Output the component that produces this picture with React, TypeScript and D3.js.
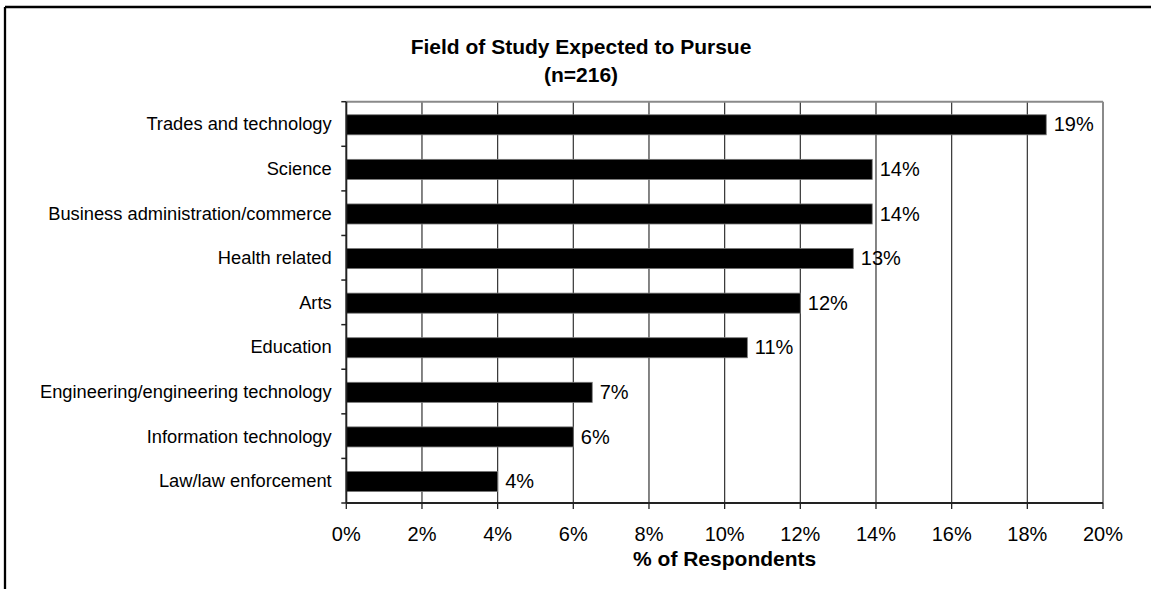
import React from "react";
import * as d3 from "d3";

const categories = [
  "Trades and technology",
  "Science",
  "Business administration/commerce",
  "Health related",
  "Arts",
  "Education",
  "Engineering/engineering technology",
  "Information technology",
  "Law/law enforcement",
];
const values = [18.5, 13.9, 13.9, 13.4, 12.0, 10.6, 6.5, 6.0, 4.0];
const xTicks = [0, 2, 4, 6, 8, 10, 12, 14, 16, 18, 20];
const titleLines = ["Field of Study Expected to Pursue", "(n=216)"];
const xAxisTitle = "% of Respondents";

const W = 1151;
const H = 589;
const FONT = "'Liberation Sans', Arial, Helvetica, sans-serif";

export default function App() {
  const left = 346.3;
  const right = 1103;
  const top = 101.7;
  const bottom = 503;

  const x = d3.scaleLinear().domain([0, 20]).range([left, right]);
  const y = d3.scaleBand<string>().domain(categories).range([top, bottom]).padding(0);
  const bw = y.bandwidth();
  const barH = bw * 0.45;
  const boundaries = d3.range(categories.length + 1).map((i) => top + i * bw);

  return (
    <svg
      width={W}
      height={H}
      style={{ position: "absolute", left: 0, top: 0, background: "#fff" }}
      fontFamily={FONT}
    >
      <rect x={0} y={0} width={W} height={H} fill="#fff" />
      {/* outer frame */}
      <line x1={5} y1={7} x2={W + 5} y2={7} stroke="#000" strokeWidth={2.3} />
      <line x1={5} y1={7} x2={5} y2={H + 5} stroke="#000" strokeWidth={2.3} />

      {/* title */}
      <text x={581} y={54} textAnchor="middle" fontSize={21} fontWeight="bold" fill="#000">
        {titleLines[0]}
      </text>
      <text x={581} y={82} textAnchor="middle" fontSize={21} fontWeight="bold" fill="#000">
        {titleLines[1]}
      </text>

      {/* gridlines */}
      {xTicks.slice(1, -1).map((t) => (
        <line key={"g" + t} x1={x(t)} x2={x(t)} y1={top} y2={bottom} stroke="#333" strokeWidth={1.2} />
      ))}
      {/* plot border top/right */}
      <line x1={left} x2={right} y1={top} y2={top} stroke="#8a8a8a" strokeWidth={2} />
      <line x1={right} x2={right} y1={top} y2={bottom} stroke="#8a8a8a" strokeWidth={2} />

      {/* bars */}
      {categories.map((c, i) => (
        <rect
          key={c}
          x={x(0)}
          y={(y(c) as number) + (bw - barH) / 2 + 0.8}
          width={x(values[i]) - x(0)}
          height={barH}
          fill="#000"
          stroke="#777"
          strokeWidth={0.8}
        />
      ))}
      {/* data labels */}
      {categories.map((c, i) => (
        <text
          key={"l" + c}
          x={x(values[i]) + 7.5}
          y={(y(c) as number) + bw / 2 + 7.5}
          fontSize={20}
          fill="#000"
        >
          {Math.round(values[i]) + "%"}
        </text>
      ))}

      {/* y axis */}
      <line x1={left} x2={left} y1={top} y2={bottom} stroke="#222" strokeWidth={2} />
      {boundaries.map((b, i) => (
        <line key={"yt" + i} x1={left - 5} x2={left} y1={b} y2={b} stroke="#222" strokeWidth={1.5} />
      ))}
      {categories.map((c) => (
        <text
          key={"c" + c}
          x={331.7}
          y={(y(c) as number) + bw / 2 + 6.5}
          textAnchor="end"
          fontSize={18.3}
          fill="#000"
        >
          {c}
        </text>
      ))}

      {/* x axis */}
      <line x1={left} x2={right} y1={bottom} y2={bottom} stroke="#222" strokeWidth={2} />
      {xTicks.map((t) => (
        <line key={"xt" + t} x1={x(t)} x2={x(t)} y1={bottom} y2={bottom + 6} stroke="#222" strokeWidth={1.3} />
      ))}
      {xTicks.map((t) => (
        <text key={"xl" + t} x={x(t)} y={540.5} textAnchor="middle" fontSize={20} fill="#000">
          {t + "%"}
        </text>
      ))}
      <text x={(left + right) / 2} y={566} textAnchor="middle" fontSize={21} fontWeight="bold" fill="#000">
        {xAxisTitle}
      </text>
    </svg>
  );
}
